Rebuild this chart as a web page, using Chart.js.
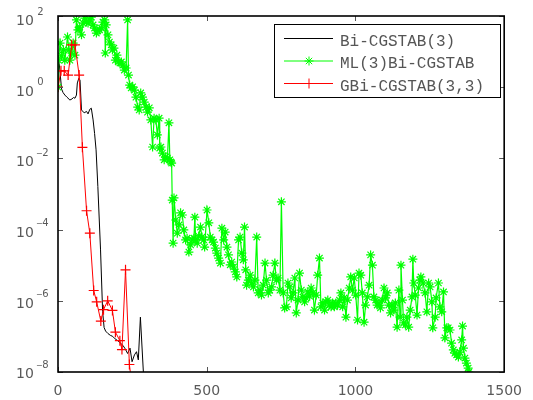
<!DOCTYPE html>
<html>
<head>
<meta charset="utf-8">
<script src="https://cdn.jsdelivr.net/npm/chart.js@4.4.1/dist/chart.umd.min.js"></script>
<style>
  html, body { margin: 0; padding: 0; background: #fff; }
  #wrap { width: 533px; height: 400px; }
</style>
</head>
<body>
<div id="wrap"><canvas id="residualChart" width="533" height="400"></canvas></div>
<script>
// Residual histories: iteration number and log10 of the residual norm
const biIter = [0,4,12,17,23,30,40,47,52,57,62,65,70,74,79,88,96,101,107,112,118,123,128,134,143,150,155,160,168,176,184,192,201,209,218,226,234,242,249,257,264,270,277,287,290];
const biExp = [0.9,0.67,-0.05,-0.15,-0.22,-0.28,-0.36,-0.33,-0.29,-0.31,-0.22,0.12,0.25,0.2,-0.64,-0.72,-0.68,-0.75,-0.62,-0.59,-0.92,-1.3,-1.76,-2.79,-4.57,-6.3,-6.75,-6.85,-6.92,-6.97,-7.0,-7.07,-7.12,-7.18,-7.25,-7.35,-7.48,-7.33,-7.71,-7.52,-7.43,-7.66,-6.46,-8.0,-9.0];

const mlIter = [0,2,7,12,18,23,32,37,40,46,51,57,62,67,73,79,84,90,96,101,107,112,118,123,129,134,140,146,151,157,159,162,168,173,179,183,188,193,198,203,208,213,218,223,229,234,237,241,246,251,257,262,268,273,278,284,290,296,301,307,312,318,323,329,334,340,342,346,351,357,362,368,373,376,379,382,384,387,390,396,401,407,412,418,423,429,434,440,446,451,457,460,463,468,473,479,484,490,493,501,507,512,518,523,529,534,540,546,551,557,562,568,573,579,584,590,596,601,607,612,618,623,627,631,634,640,646,651,657,662,668,673,679,684,690,696,701,707,712,718,723,729,734,740,746,751,757,762,768,773,779,784,790,796,801,807,812,818,823,829,834,840,846,851,857,862,868,873,879,884,890,896,901,907,912,918,923,929,934,940,946,951,957,962,968,973,979,984,990,996,1001,1007,1012,1018,1023,1029,1034,1040,1046,1051,1057,1062,1068,1073,1079,1084,1090,1096,1101,1107,1112,1118,1123,1129,1134,1140,1146,1150,1153,1158,1162,1168,1173,1179,1184,1190,1193,1196,1201,1207,1212,1217,1220,1227,1234,1240,1246,1251,1257,1260,1268,1271,1279,1284,1290,1296,1301,1307,1312,1318,1323,1329,1334,1340,1346,1351,1357,1360,1363,1368,1373,1379,1381];
const mlExp = [0.0,0.76,1.24,0.88,1.05,0.76,1.41,1.05,0.76,0.96,
  1.24,0.90,1.89,1.61,1.69,1.47,1.80,1.94,1.83,1.80,
  1.89,1.97,1.75,1.66,1.52,1.58,1.61,1.66,1.83,1.89,
  0.96,1.75,1.47,1.27,1.19,1.05,1.10,0.76,0.90,0.71,
  0.68,0.71,0.62,0.48,0.54,1.89,0.34,0.06,-0.02,0.01,
  -0.08,-0.28,-0.56,-0.64,-0.16,-0.28,-0.42,-0.56,-0.70,-0.58,
  -0.92,-1.68,-0.87,-0.92,-1.34,-0.87,-1.71,-1.68,-1.85,-2.04,
  -1.96,-1.99,-1.00,-2.04,-2.10,-2.13,-3.17,-4.38,-3.11,-3.73,
  -4.10,-3.87,-3.53,-3.59,-4.01,-4.29,-4.24,-4.63,-4.43,-4.29,
  -4.24,-3.65,-4.29,-4.38,-4.18,-3.93,-4.21,-4.29,-4.49,-3.45,
  -3.81,-4.21,-4.29,-4.35,-4.52,-4.66,-4.80,-4.94,-3.96,-4.29,
  -4.07,-4.49,-4.71,-4.99,-4.91,-5.05,-5.19,-5.33,-4.29,-4.21,
  -4.66,-4.85,-3.93,-5.13,-5.56,-5.42,-5.28,-5.50,-5.61,-5.42,
  -4.21,-5.78,-5.70,-5.84,-5.56,-4.94,-5.42,-5.78,-5.70,-5.61,
  -5.28,-4.94,-5.42,-5.36,-5.70,-3.22,-5.78,-6.20,-6.17,-5.50,
  -5.61,-5.92,-5.78,-5.36,-6.34,-5.98,-5.22,-5.70,-5.89,-6.03,
  -5.92,-5.75,-5.87,-5.64,-5.78,-6.26,-5.84,-5.28,-4.80,-6.17,
  -6.06,-6.26,-6.03,-5.98,-6.12,-6.17,-6.06,-6.17,-6.06,-6.12,
  -5.98,-5.78,-6.17,-5.92,-6.46,-5.98,-5.64,-5.33,-5.70,-5.36,
  -5.84,-6.54,-5.22,-5.28,-5.78,-6.60,-6.12,-5.89,-5.56,-4.71,
  -5.00,-5.89,-5.98,-6.12,-6.06,-6.20,-5.98,-5.64,-5.92,-5.78,
  -6.12,-6.34,-6.12,-6.26,-6.06,-6.74,-5.70,-6.46,-5.00,-5.98,
  -6.62,-6.68,-6.46,-6.74,-6.26,-5.89,-4.83,-5.50,-5.84,-6.40,
  -5.64,-5.42,-5.33,-5.50,-5.78,-6.31,-5.50,-5.61,-6.03,-6.76,
  -6.46,-5.92,-5.50,-6.17,-6.31,-5.75,-7.04,-6.76,-6.76,-6.82,
  -7.19,-7.38,-7.47,-7.52,-7.58,-7.44,-7.10,-6.71,-7.33,-7.61,
  -7.75,-7.89,-8.00];

const gbiIter = [0,10,21,34,46,57,71,82,96,107,120,130,144,153,167,183,193,208,215,227,240,252];
const gbiExp = [0.0,0.46,0.46,0.34,1.19,1.19,0.34,-1.69,-3.47,-4.10,-5.71,-6.03,-6.57,-6.25,-6.00,-6.27,-6.88,-7.12,-7.37,-5.13,-7.79,-8.6];

const seriesNames = ['Bi-CGSTAB(3)', 'ML(3)Bi-CGSTAB', 'GBi-CGSTAB(3,3)'];
const xTicks = [0, 500, 1000, 1500];
const yTickExps = [2, 0, -2, -4, -6, -8];

const toPoints = (xs, exps) => xs.map((x, i) => ({ x: x, y: Math.pow(10, exps[i]) }));

// draws a marker the way chart.js does, used for the legend samples
function drawMarker(ctx, style, cx, cy, r) {
    ctx.beginPath();
    ctx.moveTo(cx - r, cy); ctx.lineTo(cx + r, cy);
    ctx.moveTo(cx, cy - r); ctx.lineTo(cx, cy + r);
    if (style === 'star') {
        const d = r * Math.SQRT1_2;
        ctx.moveTo(cx - d, cy - d); ctx.lineTo(cx + d, cy + d);
        ctx.moveTo(cx - d, cy + d); ctx.lineTo(cx + d, cy - d);
    }
    ctx.stroke();
}

const matlabFrame = {
    id: 'matlabFrame',
    afterDatasetsDraw(chart) {
        const { ctx, chartArea: a, scales } = chart;
        const x = scales.x, y = scales.y;
        ctx.save();

        // inward tick marks on all four sides
        ctx.strokeStyle = '#555';
        ctx.lineWidth = 1;
        ctx.beginPath();
        xTicks.forEach(v => {
            const px = Math.round(x.getPixelForValue(v)) + 0.5;
            ctx.moveTo(px, a.bottom); ctx.lineTo(px, a.bottom - 5);
            ctx.moveTo(px, a.top); ctx.lineTo(px, a.top + 5);
        });
        yTickExps.forEach(e => {
            const py = Math.round(y.getPixelForValue(Math.pow(10, e))) + 0.5;
            ctx.moveTo(a.left, py); ctx.lineTo(a.left + 5, py);
            ctx.moveTo(a.right, py); ctx.lineTo(a.right - 5, py);
        });
        ctx.stroke();

        // axes box
        ctx.strokeStyle = '#000';
        ctx.lineWidth = 1.6;
        ctx.strokeRect(a.left, a.top, a.right - a.left, a.bottom - a.top);

        // y labels: 10 with raised exponent
        ctx.fillStyle = '#5a5a5a';
        ctx.textAlign = 'left';
        ctx.textBaseline = 'alphabetic';
        const span = a.bottom - a.top;
        yTickExps.forEach(e => {
            const py = y.getPixelForValue(Math.pow(10, e));
            const c = py + 4 - 3 * (py - a.top) / span;
            ctx.font = '14px "DejaVu Sans"';
            ctx.fillText('10', 16, c + 5.1);
            const eb = c - 9 + 3.6;
            if (e < 0) {
                ctx.font = '8px "DejaVu Sans"';
                ctx.fillText('\u2212', 36, eb);
                ctx.font = '10px "DejaVu Sans"';
                ctx.fillText(String(-e), 42.3, eb);
            } else {
                ctx.font = '10px "DejaVu Sans"';
                ctx.fillText(String(e), 37.3, eb);
            }
        });

        // legend box
        const lx = 274.5, ly = 24.5, lw = 226, lh = 73;
        ctx.fillStyle = '#fff';
        ctx.fillRect(lx, ly, lw, lh);
        ctx.strokeStyle = '#000';
        ctx.lineWidth = 1;
        ctx.strokeRect(lx, ly, lw, lh);

        ctx.font = '16px "Liberation Mono"';
        ctx.textBaseline = 'middle';
        chart.data.datasets.slice()
            .sort((p, q) => seriesNames.indexOf(p.label) - seriesNames.indexOf(q.label))
            .forEach((ds, i) => {
                const rowY = 38.5 + i * 22.5;
                ctx.strokeStyle = ds.borderColor;
                ctx.lineWidth = 1;
                ctx.beginPath();
                ctx.moveTo(284, rowY); ctx.lineTo(333, rowY);
                ctx.stroke();
                if (ds.pointRadius > 0) drawMarker(ctx, ds.pointStyle, 309, rowY, ds.pointRadius);
                ctx.fillStyle = '#555';
                ctx.fillText(ds.label, 340, rowY + 3);
            });

        ctx.restore();
    }
};

new Chart(document.getElementById('residualChart'), {
    type: 'line',
    data: {
        datasets: [
            {
                label: seriesNames[2],
                data: toPoints(gbiIter, gbiExp),
                borderColor: '#ff0000',
                borderWidth: 1,
                pointStyle: 'cross',
                pointRadius: 5,
                pointBorderColor: '#ff0000',
                pointBorderWidth: 1.2,
                order: 0
            },
            {
                label: seriesNames[1],
                data: toPoints(mlIter, mlExp),
                borderColor: '#00ff00',
                borderWidth: 1.2,
                pointStyle: 'star',
                pointRadius: 4.5,
                pointBorderColor: '#00ff00',
                pointBorderWidth: 1.2,
                order: 1
            },
            {
                label: seriesNames[0],
                data: toPoints(biIter, biExp),
                borderColor: '#000000',
                borderWidth: 1,
                pointRadius: 0,
                order: 2
            }
        ]
    },
    options: {
        responsive: false,
        animation: false,
        devicePixelRatio: 1,
        layout: { padding: { left: 0, right: 25, top: 16, bottom: 0 } },
        elements: { line: { tension: 0 } },
        plugins: { legend: { display: false }, tooltip: { enabled: false } },
        scales: {
            x: {
                type: 'linear',
                min: 0,
                max: 1500,
                afterBuildTicks: s => { s.ticks = xTicks.map(v => ({ value: v })); },
                afterFit: s => { s.height = 28; },
                ticks: {
                    callback: v => String(v),
                    font: { family: 'DejaVu Sans', size: 14 },
                    color: '#5a5a5a',
                    padding: 11,
                    maxRotation: 0,
                    autoSkip: false
                },
                grid: { display: false, drawTicks: false },
                border: { display: false }
            },
            y: {
                type: 'logarithmic',
                min: 1e-8,
                max: 1e2,
                afterFit: s => { s.width = 58; },
                ticks: { display: false },
                grid: { display: false, drawTicks: false },
                border: { display: false }
            }
        }
    },
    plugins: [matlabFrame]
});
</script>
</body>
</html>
